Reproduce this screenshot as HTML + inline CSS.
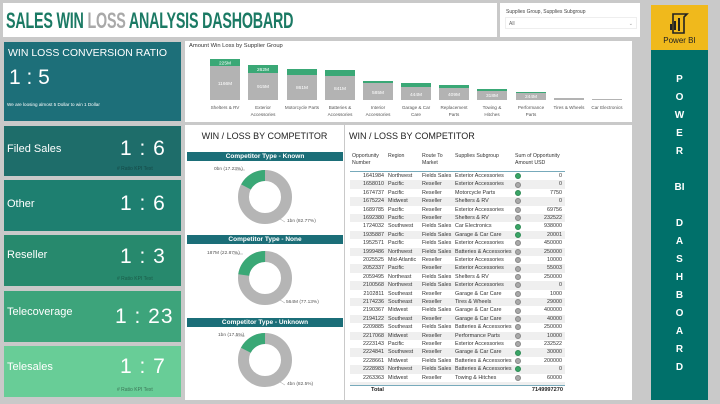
<!DOCTYPE html>
<html><head><meta charset="utf-8"><style>
*{margin:0;padding:0;box-sizing:border-box}
body{width:720px;height:404px;background:#c9c9c9;position:relative;overflow:hidden;font-family:"Liberation Sans",sans-serif}
.a{position:absolute}
.p{position:absolute;background:#fff}
.k{position:absolute;color:#fff}
.kl{position:absolute;left:6px;font-size:11px}
.kv{position:absolute;font-size:21px;letter-spacing:1px}
.ks{position:absolute;font-size:5px;color:rgba(0,0,0,.35)}
.bl{position:absolute;font-size:4.6px;color:#555;text-align:center;width:40px;line-height:7px}
.r{position:absolute;left:350px;width:215px;height:8.4px;font-size:5.4px;color:#333;line-height:8.4px}
.r span{position:absolute}
.r .n{right:181px}.r .g{left:38px}.r .t{left:72px}.r .s{left:105px}.r .c{left:165px;top:1.2px;width:6px;height:6px;border-radius:50%;background:#a9a9a9;border:.5px solid #888}.r .c.w{background:#3aa566;border-color:#2f8a55}.r .m{right:3px}
.dh{position:absolute;left:187px;width:156px;height:9px;background:#1b6e78;color:#fff;font-size:6.5px;font-weight:bold;text-align:center;line-height:9px}
.dl{position:absolute;font-size:4.8px;color:#555}
.v{position:absolute;left:651px;width:57px;text-align:center;color:#fff;font-weight:bold;font-size:10px;line-height:18px}
</style></head><body>
<div class="p" style="left:3px;top:3px;width:494px;height:34px"></div>
<div class="a" style="left:6px;top:8px;font-size:22px;font-weight:bold;color:#1b7a64;letter-spacing:-.3px;transform:scaleX(.65);transform-origin:left;white-space:nowrap">SALES WIN <span style="color:#a9a9a9">LOSS</span> ANALYSIS DASHOBARD</div>
<div class="p" style="left:500px;top:3px;width:140px;height:34px"></div>
<div class="a" style="left:506px;top:9px;font-size:5px;color:#444">Supplies Group, Supplies Subgroup</div>
<div class="a" style="left:505px;top:17px;width:132px;height:12px;border:.5px solid #eee;font-size:5px;color:#666;padding:3px 3px">All<span style="float:right;color:#999">&#8964;</span></div>

<div class="a" style="left:651px;top:5px;width:57px;height:45px;background:#f0b91c"></div>
<svg class="a" style="left:667px;top:11px" width="24" height="24" viewBox="0 0 24 24"><path d="M6 3 h14 l-3 3 v16 h-11z" fill="none" stroke="#222" stroke-width="1.6"/><rect x="3" y="13" width="2" height="6" fill="#222"/><rect x="7" y="10" width="2" height="9" fill="#222"/><rect x="11" y="7" width="2" height="13" fill="#222"/></svg>
<div class="a" style="left:651px;top:36px;width:57px;text-align:center;font-size:8px;color:#222">Power BI</div>
<div class="a" style="left:651px;top:50px;width:57px;height:350px;background:#00706a"></div>
<div class="v" style="top:71px">P<br>O<br>W<br>E<br>R<br><br>BI<br><br>D<br>A<br>S<br>H<br>B<br>O<br>A<br>R<br>D</div>

<div class="k" style="left:4px;top:42px;width:177px;height:79px;background:#1d6f79">
<div class="a" style="left:4px;top:5px;font-size:10.5px">WIN LOSS CONVERSION RATIO</div>
<div class="a" style="left:5px;top:24px;font-size:21px">1 : 5</div>
<div class="a" style="left:3px;top:60px;font-size:4.6px">We are loosing almost 5 Dollar to win 1 Dollar</div></div>
<div class="k" style="left:4px;top:126px;width:177px;height:50px;background:#1e6d6a"><div class="kl" style="top:17px;left:3px">Filed Sales</div><div class="kv" style="left:116px;top:11px">1 : 6</div><div class="ks" style="left:113px;top:40px"># Ratio KPI Text</div></div>
<div class="k" style="left:4px;top:180px;width:177px;height:51px;background:#1e7f70"><div class="kl" style="top:18px;left:3px">Other</div><div class="kv" style="left:116px;top:12px">1 : 6</div></div>
<div class="k" style="left:4px;top:235px;width:177px;height:51px;background:#27896d"><div class="kl" style="top:14px;left:3px">Reseller</div><div class="kv" style="left:116px;top:10px">1 : 3</div><div class="ks" style="left:113px;top:41px"># Ratio KPI Text</div></div>
<div class="k" style="left:4px;top:291px;width:177px;height:51px;background:#3da47b"><div class="kl" style="top:15px;left:3px">Telecoverage</div><div class="kv" style="left:111px;top:14px">1 : 23</div></div>
<div class="k" style="left:4px;top:346px;width:177px;height:51px;background:#68cd97"><div class="kl" style="top:15px;left:3px">Telesales</div><div class="kv" style="left:116px;top:9px">1 : 7</div><div class="ks" style="left:113px;top:41px;color:rgba(0,0,0,.45)"># Ratio KPI Text</div></div>

<div class="p" style="left:185px;top:41px;width:447px;height:81px"></div>
<div class="a" style="left:189px;top:43px;font-size:5.8px;color:#333">Amount Win Loss by Supplier Group</div>
<svg class="a" style="left:185px;top:41px" width="447" height="81">
<g fill="#3aa876"><rect x="25" y="18" width="30" height="7"/><rect x="63" y="24" width="30" height="8"/><rect x="102" y="28" width="30" height="6"/><rect x="140" y="29" width="30" height="6"/><rect x="178" y="40" width="30" height="2"/><rect x="216" y="42" width="30" height="4"/><rect x="254" y="44" width="30" height="3"/><rect x="292" y="48" width="30" height="2"/><rect x="331" y="51" width="30" height="1"/></g>
<g fill="#b3b3b3"><rect x="25" y="25" width="30" height="34"/><rect x="63" y="32" width="30" height="27"/><rect x="102" y="34" width="30" height="25"/><rect x="140" y="35" width="30" height="24"/><rect x="178" y="42" width="30" height="17"/><rect x="216" y="46" width="30" height="13"/><rect x="254" y="47" width="30" height="12"/><rect x="292" y="50" width="30" height="9"/><rect x="331" y="52" width="30" height="7"/><rect x="369" y="57" width="30" height="2"/><rect x="407" y="58" width="30" height="1"/></g>
<g fill="#fff" font-size="4.8" text-anchor="middle" font-family="Liberation Sans"><text x="40" y="23.5">225M</text><text x="78" y="30">262M</text><text x="40" y="44">1166M</text><text x="78" y="47">915M</text><text x="117" y="48">861M</text><text x="155" y="49">841M</text><text x="193" y="53">585M</text><text x="231" y="55">444M</text><text x="269" y="55">409M</text><text x="307" y="56">318M</text><text x="346" y="57">244M</text></g>
</svg>
<div class="bl" style="left:205px;top:104px">Shelters &amp; RV</div>
<div class="bl" style="left:243px;top:104px">Exterior<br>Accessories</div>
<div class="bl" style="left:282px;top:104px">Motorcycle Parts</div>
<div class="bl" style="left:320px;top:104px">Batteries &amp;<br>Accessories</div>
<div class="bl" style="left:358px;top:104px">Interior<br>Accessories</div>
<div class="bl" style="left:396px;top:104px">Garage &amp; Car<br>Care</div>
<div class="bl" style="left:434px;top:104px">Replacement<br>Parts</div>
<div class="bl" style="left:472px;top:104px">Towing &amp;<br>Hitches</div>
<div class="bl" style="left:511px;top:104px">Performance<br>Parts</div>
<div class="bl" style="left:549px;top:104px">Tires &amp; Wheels</div>
<div class="bl" style="left:587px;top:104px">Car Electronics</div>

<div class="p" style="left:185px;top:125px;width:159px;height:275px"></div>
<div class="a" style="left:185px;top:131px;width:159px;text-align:center;font-size:9px;color:#222">WIN / LOSS BY COMPETITOR</div>
<div class="dh" style="top:152px">Competitor Type - Known</div>
<div class="dh" style="top:235px">Competitor Type - None</div>
<div class="dh" style="top:318px">Competitor Type - Unknown</div>
<svg class="a" style="left:185px;top:125px" width="159" height="275">
<g fill="none" stroke-width="11">
<circle cx="80" cy="72" r="21.5" stroke="#b5b5b5"/><circle cx="80" cy="72" r="21.5" stroke="#3aa876" stroke-dasharray="23.2 200" transform="rotate(-152 80 72)"/>
<circle cx="80" cy="153" r="21.5" stroke="#b5b5b5"/><circle cx="80" cy="153" r="21.5" stroke="#3aa876" stroke-dasharray="30.8 200" transform="rotate(-172 80 153)"/>
<circle cx="80" cy="235" r="21.5" stroke="#b5b5b5"/><circle cx="80" cy="235" r="21.5" stroke="#3aa876" stroke-dasharray="23.6 200" transform="rotate(-153 80 235)"/>
</g>
<g stroke="#999" stroke-width=".5"><path d="M50 45 h10"/><path d="M95 94 l5 3"/><path d="M48 129 h10"/><path d="M95 175 l5 3"/><path d="M50 211 h10"/><path d="M95 257 l5 3"/></g>
</svg>
<div class="dl" style="left:214px;top:167px">0bn (17.23%)</div>
<div class="dl" style="left:287px;top:219px">1bn (82.77%)</div>
<div class="dl" style="left:207px;top:251px">187M (22.87%)</div>
<div class="dl" style="left:286px;top:300px">564M (77.13%)</div>
<div class="dl" style="left:218px;top:333px">1bn (17.5%)</div>
<div class="dl" style="left:287px;top:382px">4bn (82.5%)</div>

<div class="p" style="left:345px;top:125px;width:287px;height:275px"></div>
<div class="a" style="left:349px;top:131px;font-size:9px;color:#222">WIN / LOSS BY COMPETITOR</div>
<div class="a" style="left:350px;top:153px;width:215px;height:19px;border-bottom:.7px solid #7ab;font-size:5.2px;color:#333;line-height:6.5px">
<span class="a" style="left:2px">Opportunity<br>Number</span><span class="a" style="left:38px">Region</span><span class="a" style="left:72px">Route To<br>Market</span><span class="a" style="left:105px">Supplies Subgroup</span><span class="a" style="left:165px">Sum of Opportunity<br>Amount USD</span></div>
<div class="a" style="left:0;top:172px">
<div class="r" style="top:0px"><span class="n">1641984</span><span class="g">Northwest</span><span class="t">Fields Sales</span><span class="s">Exterior Accessories</span><span class="c w"></span><span class="m">0</span></div>
<div class="r" style="top:8.4px;background:#efefef"><span class="n">1658010</span><span class="g">Pacific</span><span class="t">Reseller</span><span class="s">Exterior Accessories</span><span class="c"></span><span class="m">0</span></div>
<div class="r" style="top:16.8px"><span class="n">1674737</span><span class="g">Pacific</span><span class="t">Reseller</span><span class="s">Motorcycle Parts</span><span class="c w"></span><span class="m">7750</span></div>
<div class="r" style="top:25.2px;background:#efefef"><span class="n">1675224</span><span class="g">Midwest</span><span class="t">Reseller</span><span class="s">Shelters &amp; RV</span><span class="c"></span><span class="m">0</span></div>
<div class="r" style="top:33.6px"><span class="n">1689785</span><span class="g">Pacific</span><span class="t">Reseller</span><span class="s">Exterior Accessories</span><span class="c"></span><span class="m">69756</span></div>
<div class="r" style="top:42px;background:#efefef"><span class="n">1692380</span><span class="g">Pacific</span><span class="t">Reseller</span><span class="s">Shelters &amp; RV</span><span class="c"></span><span class="m">232522</span></div>
<div class="r" style="top:50.4px"><span class="n">1724032</span><span class="g">Southwest</span><span class="t">Fields Sales</span><span class="s">Car Electronics</span><span class="c w"></span><span class="m">938000</span></div>
<div class="r" style="top:58.8px;background:#efefef"><span class="n">1935887</span><span class="g">Pacific</span><span class="t">Fields Sales</span><span class="s">Garage &amp; Car Care</span><span class="c w"></span><span class="m">20001</span></div>
<div class="r" style="top:67.2px"><span class="n">1952571</span><span class="g">Pacific</span><span class="t">Fields Sales</span><span class="s">Exterior Accessories</span><span class="c"></span><span class="m">450000</span></div>
<div class="r" style="top:75.6px;background:#efefef"><span class="n">1999486</span><span class="g">Northwest</span><span class="t">Fields Sales</span><span class="s">Batteries &amp; Accessories</span><span class="c"></span><span class="m">250000</span></div>
<div class="r" style="top:84px"><span class="n">2025525</span><span class="g">Mid-Atlantic</span><span class="t">Reseller</span><span class="s">Exterior Accessories</span><span class="c"></span><span class="m">10000</span></div>
<div class="r" style="top:92.4px;background:#efefef"><span class="n">2052337</span><span class="g">Pacific</span><span class="t">Reseller</span><span class="s">Exterior Accessories</span><span class="c"></span><span class="m">55003</span></div>
<div class="r" style="top:100.8px"><span class="n">2059495</span><span class="g">Northeast</span><span class="t">Fields Sales</span><span class="s">Shelters &amp; RV</span><span class="c"></span><span class="m">250000</span></div>
<div class="r" style="top:109.2px;background:#efefef"><span class="n">2100568</span><span class="g">Northwest</span><span class="t">Fields Sales</span><span class="s">Exterior Accessories</span><span class="c"></span><span class="m">0</span></div>
<div class="r" style="top:117.6px"><span class="n">2102811</span><span class="g">Southeast</span><span class="t">Reseller</span><span class="s">Garage &amp; Car Care</span><span class="c"></span><span class="m">1000</span></div>
<div class="r" style="top:126px;background:#efefef"><span class="n">2174236</span><span class="g">Southeast</span><span class="t">Reseller</span><span class="s">Tires &amp; Wheels</span><span class="c"></span><span class="m">29000</span></div>
<div class="r" style="top:134.4px"><span class="n">2190367</span><span class="g">Midwest</span><span class="t">Fields Sales</span><span class="s">Garage &amp; Car Care</span><span class="c"></span><span class="m">400000</span></div>
<div class="r" style="top:142.8px;background:#efefef"><span class="n">2194122</span><span class="g">Southeast</span><span class="t">Reseller</span><span class="s">Garage &amp; Car Care</span><span class="c"></span><span class="m">40000</span></div>
<div class="r" style="top:151.2px"><span class="n">2209885</span><span class="g">Southeast</span><span class="t">Fields Sales</span><span class="s">Batteries &amp; Accessories</span><span class="c"></span><span class="m">250000</span></div>
<div class="r" style="top:159.6px;background:#efefef"><span class="n">2217068</span><span class="g">Midwest</span><span class="t">Reseller</span><span class="s">Performance Parts</span><span class="c"></span><span class="m">10000</span></div>
<div class="r" style="top:168px"><span class="n">2223143</span><span class="g">Pacific</span><span class="t">Reseller</span><span class="s">Exterior Accessories</span><span class="c"></span><span class="m">232522</span></div>
<div class="r" style="top:176.4px;background:#efefef"><span class="n">2224841</span><span class="g">Southwest</span><span class="t">Reseller</span><span class="s">Garage &amp; Car Care</span><span class="c w"></span><span class="m">30000</span></div>
<div class="r" style="top:184.8px"><span class="n">2228661</span><span class="g">Midwest</span><span class="t">Fields Sales</span><span class="s">Batteries &amp; Accessories</span><span class="c"></span><span class="m">200000</span></div>
<div class="r" style="top:193.2px;background:#efefef"><span class="n">2228983</span><span class="g">Northwest</span><span class="t">Fields Sales</span><span class="s">Batteries &amp; Accessories</span><span class="c w"></span><span class="m">0</span></div>
<div class="r" style="top:201.6px"><span class="n">2263363</span><span class="g">Midwest</span><span class="t">Reseller</span><span class="s">Towing &amp; Hitches</span><span class="c"></span><span class="m">60000</span></div>
<div class="r" style="top:210px;height:3px;overflow:hidden;background:#efefef"></div>
</div>
<div class="a" style="left:350px;top:385px;width:215px;height:.7px;background:#7ab"></div>
<div class="a" style="left:371px;top:387px;font-size:5.6px;font-weight:bold;color:#222">Total</div>
<div class="a" style="left:500px;top:387px;width:63px;text-align:right;font-size:5.6px;font-weight:bold;color:#222">7149997270</div>
</body></html>
